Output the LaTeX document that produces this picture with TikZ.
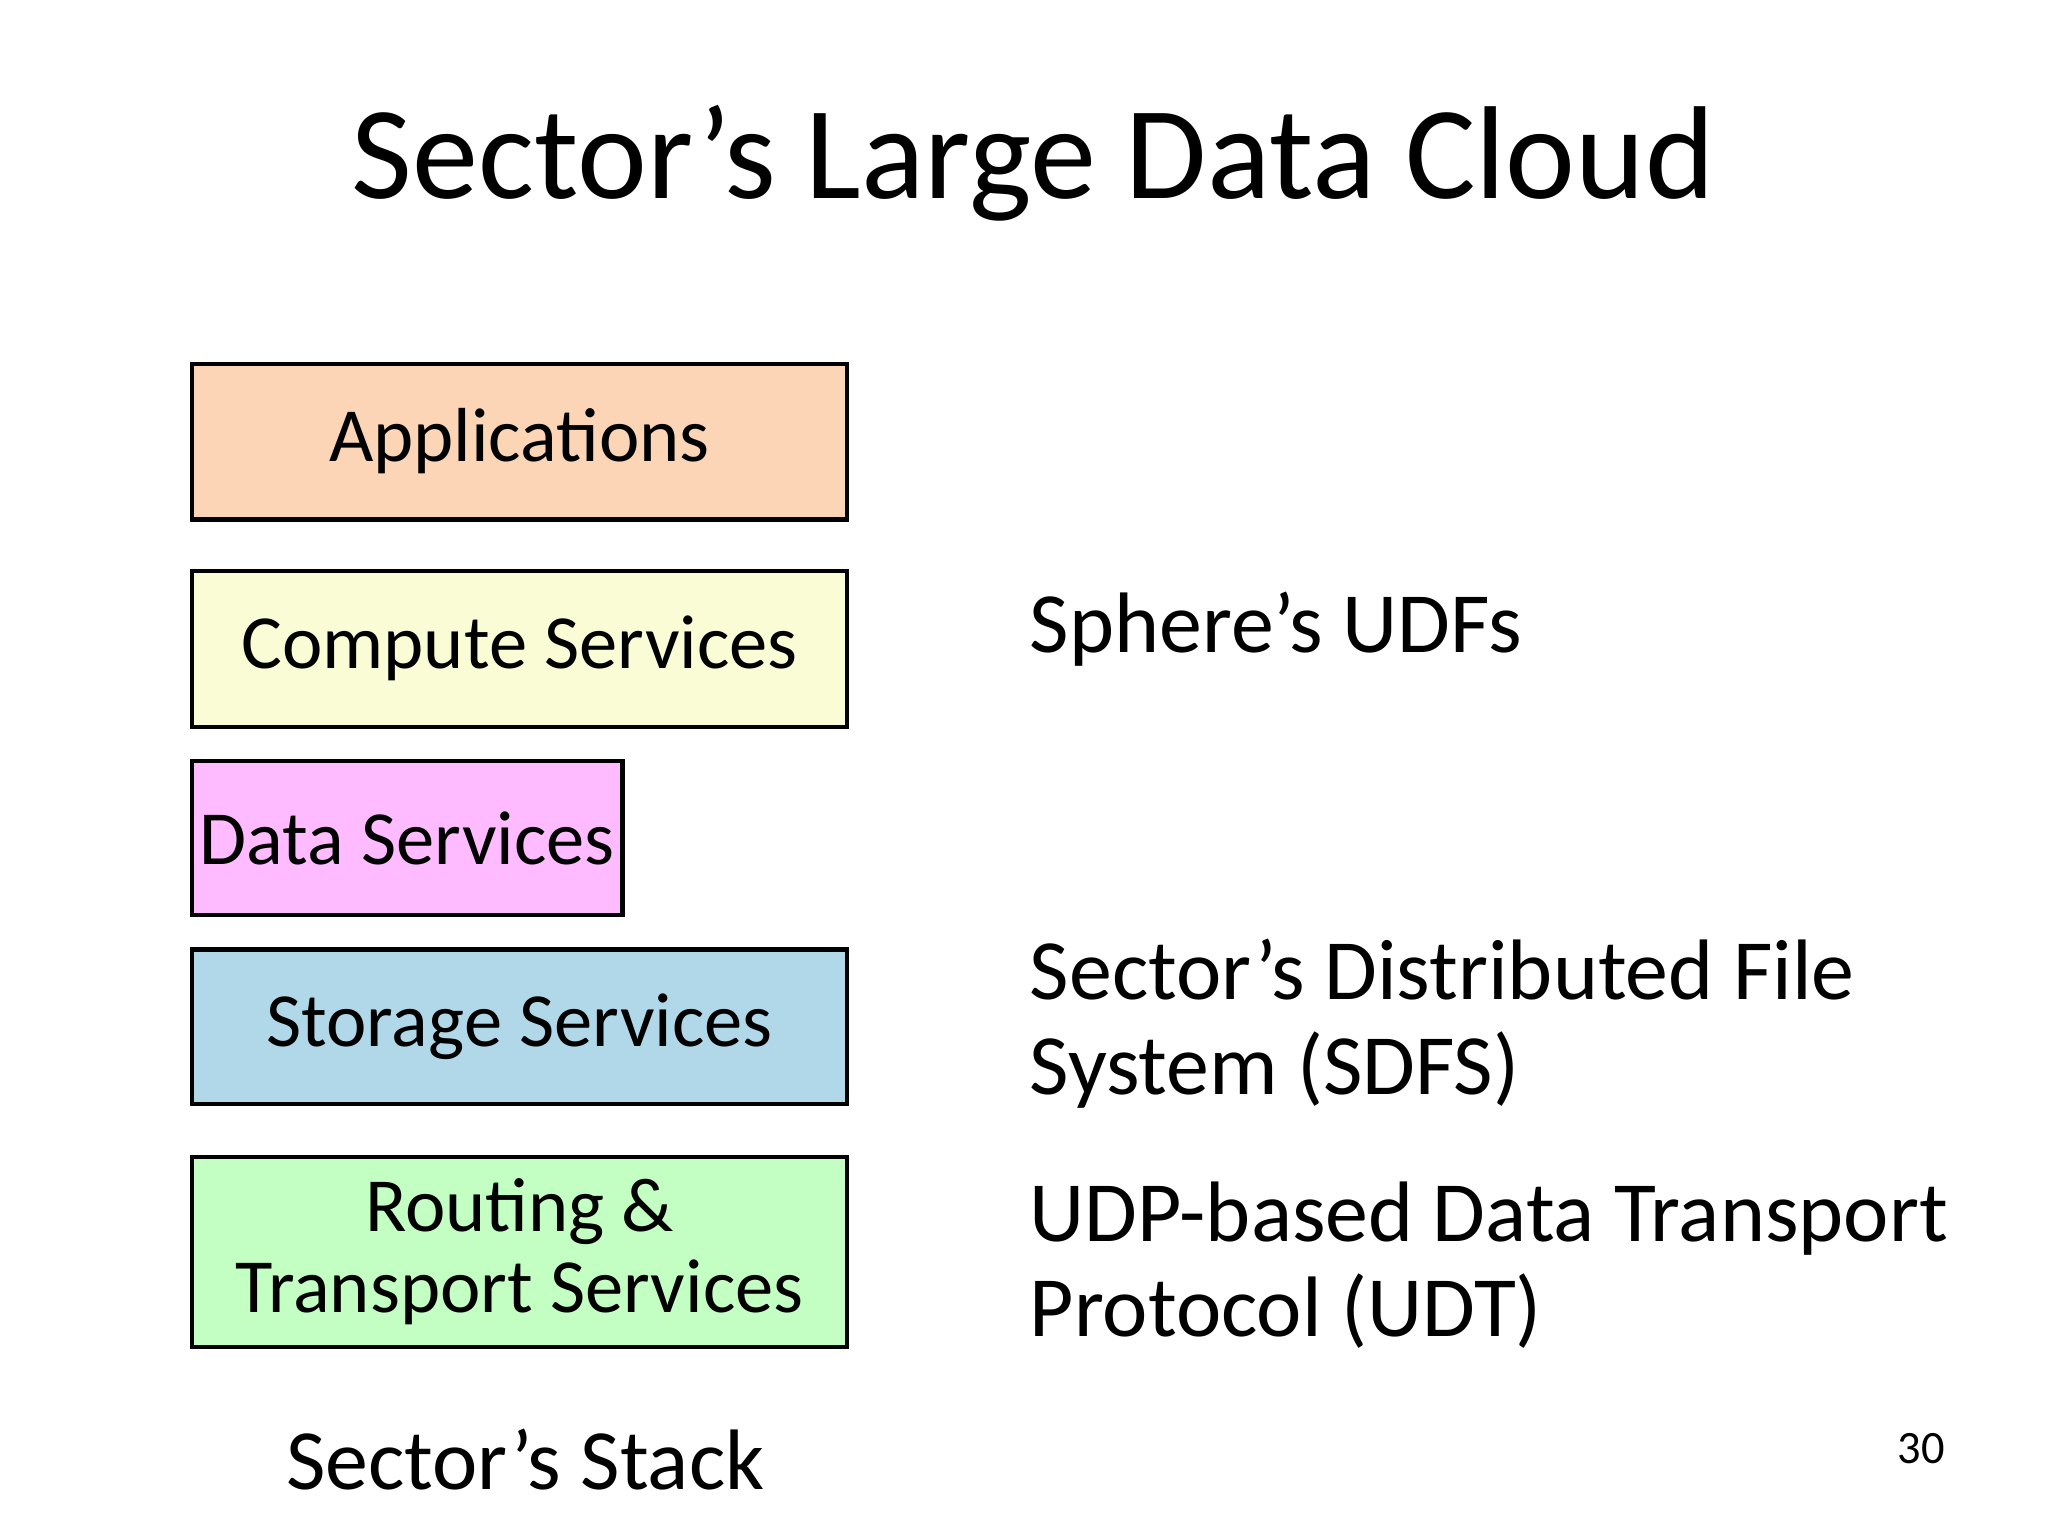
\documentclass[tikz,border=0pt]{standalone}
\usepackage{fontspec}
\setmainfont{Carlito}
\begin{document}
\begin{tikzpicture}[x=0.01cm,y=-0.01cm,
  layer/.style={draw=black,line width=0.9pt,anchor=north west,inner sep=0pt,align=center,font=\fontsize{16.5}{17.6}\selectfont},
  side/.style={anchor=west,align=left,font=\fontsize{18.5}{20.5}\selectfont}]
\useasboundingbox[fill=white] (0,0) rectangle (1552,1164);
\node[font=\fontsize{28.5}{30}\selectfont] (title) at (783,124) {Sector’s Large Data Cloud};
\node[layer,fill={rgb,255:red,251;green,213;blue,181},minimum width=496\pgflinewidth*0+4.96cm,minimum height=1.18cm] (app) at (144,274) {Applications};
\node[layer,fill={rgb,255:red,249;green,252;blue,212},minimum width=4.96cm,minimum height=1.18cm] (comp) at (144,431) {Compute Services};
\node[layer,fill={rgb,255:red,255;green,187;blue,255},minimum width=3.26cm,minimum height=1.17cm] (data) at (144,575) {Data Services};
\node[layer,fill={rgb,255:red,176;green,216;blue,232},minimum width=4.96cm,minimum height=1.17cm] (stor) at (144,718) {Storage Services};
\node[layer,fill={rgb,255:red,195;green,255;blue,195},minimum width=4.96cm,minimum height=1.44cm] (rout) at (144,875) {Routing \&\\Transport Services};
\node[font=\fontsize{18.5}{20}\selectfont] (stack) at (398,1106) {Sector’s Stack};
\node[side] (udf) at (768,477) {Sphere’s UDFs};
\node[side] (sdfs) at (768,776) {Sector’s Distributed File\\System (SDFS)};
\node[side] (udt) at (768,959) {UDP-based Data Transport\\Protocol (UDT)};
\node[font=\fontsize{10}{12}\selectfont] (num) at (1456,1098) {30};
\end{tikzpicture}
\end{document}
